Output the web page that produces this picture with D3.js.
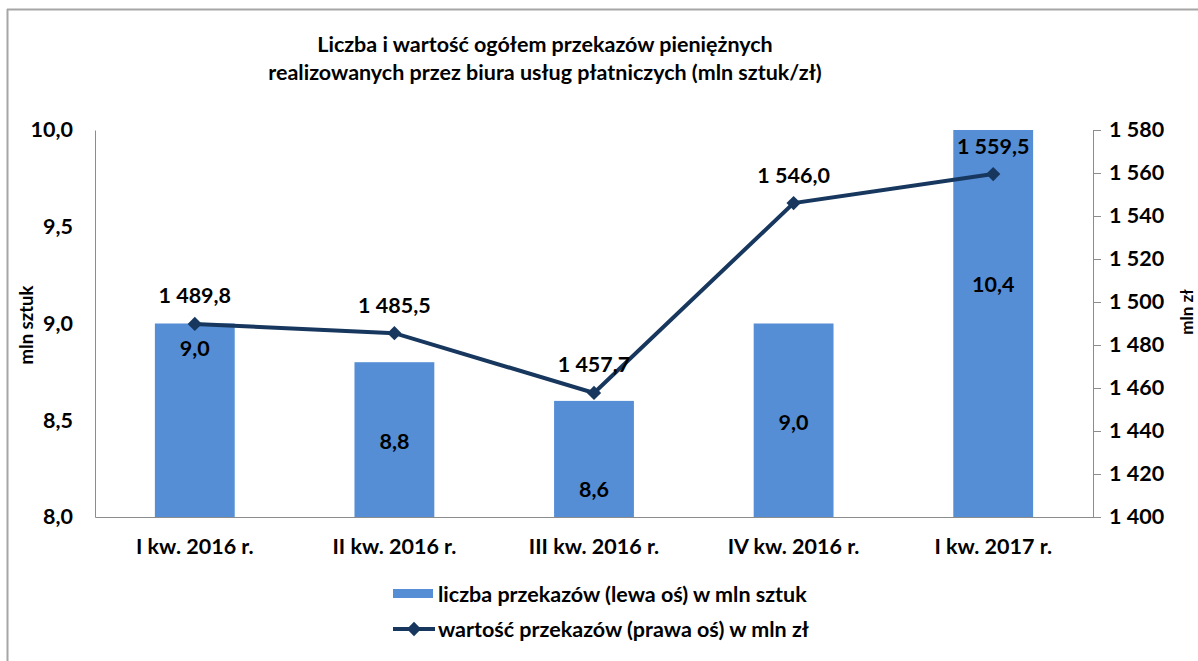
<!DOCTYPE html>
<html><head><meta charset="utf-8">
<script src="https://cdn.jsdelivr.net/npm/d3@7"></script>
<style>
body{margin:0;background:#fff;}
svg text{font-family:Lato,"Open Sans",sans-serif;font-weight:bold;fill:#000;}
</style></head><body>
<svg id="c" width="1198" height="661"></svg>
<script>
const categories = ["I kw. 2016 r.", "II kw. 2016 r.", "III kw. 2016 r.", "IV kw. 2016 r.", "I kw. 2017 r."];
const countValues = [9.0, 8.8, 8.6, 9.0, 10.4];
const valueValues = [1489.8, 1485.5, 1457.7, 1546.0, 1559.5];
const countLabelAnchor = [8.87, 8.39, 8.14, 8.49, 9.2];
const leftTicks = [8.0, 8.5, 9.0, 9.5, 10.0];
const rightTicks = [1400, 1420, 1440, 1460, 1480, 1500, 1520, 1540, 1560, 1580];
const titleLines = ["Liczba i wartość ogółem przekazów pieniężnych", "realizowanych przez biura usług płatniczych (mln sztuk/zł)"];
const legendLabels = ["liczba przekazów (lewa oś) w mln sztuk", "wartość przekazów (prawa oś) w mln zł"];

const svg = d3.select("#c");
const barColor = "#558ED5", lineColor = "#17375E", axisColor = "#8c8c8c";
const m = {l:95, r:1093, t:130, b:517};
const fs = 21.5;

// frame
svg.append("line").attr("x1",7).attr("x2",1198).attr("y1",9.5).attr("y2",9.5).attr("stroke","#a6a6a6").attr("stroke-width",2);
svg.append("line").attr("x1",7.5).attr("x2",7.5).attr("y1",9).attr("y2",661).attr("stroke","#a6a6a6").attr("stroke-width",2);

const x = d3.scaleBand().domain(categories).range([m.l, m.r]).paddingInner(0.6).paddingOuter(0.3);
const yL = d3.scaleLinear().domain([8,10]).range([m.b, m.t]);
const yR = d3.scaleLinear().domain([1400,1580]).range([m.b, m.t]);
const fmt1 = v => d3.format(",.1f")(v).replace(/,/g," ").replace(".",",");
const fmtR = v => d3.format(",")(v).replace(/,/g," ");

// title
svg.selectAll("text.title").data(titleLines).join("text").attr("class","title")
  .attr("x",545).attr("y",(d,i)=>52+i*28).attr("text-anchor","middle").attr("font-size",21.5).text(d=>d);

// bars (clipped to plot area)
svg.append("clipPath").attr("id","pc").append("rect").attr("x",m.l).attr("y",m.t).attr("width",m.r-m.l).attr("height",m.b-m.t);
svg.append("g").attr("clip-path","url(#pc)").selectAll("rect").data(countValues).join("rect")
  .attr("x",(d,i)=>x(categories[i])).attr("width",x.bandwidth())
  .attr("y",d=>yL(d)).attr("height",d=>m.b-yL(d)).attr("fill",barColor);

// axes
const gL = svg.append("g").attr("transform",`translate(${m.l},0)`)
  .call(d3.axisLeft(yL).tickValues(leftTicks).tickSize(0).tickPadding(22).tickFormat(fmt1));
gL.select(".domain").attr("stroke",axisColor);
gL.selectAll("text").attr("font-size",fs).attr("font-family","Lato").attr("font-weight","bold");

const gR = svg.append("g").attr("transform",`translate(${m.r},0)`)
  .call(d3.axisRight(yR).tickValues(rightTicks).tickSizeInner(8).tickSizeOuter(8).tickPadding(8).tickFormat(fmtR));
gR.selectAll("path,line").attr("stroke",axisColor);
gR.selectAll("text").attr("font-size",fs).attr("font-family","Lato").attr("font-weight","bold");

const gB = svg.append("g").attr("transform",`translate(0,${m.b})`)
  .call(d3.axisBottom(x).tickSize(0).tickPadding(22));
gB.select(".domain").attr("stroke",axisColor);
gB.selectAll("text").attr("font-size",fs).attr("font-family","Lato").attr("font-weight","bold");

// axis titles
svg.append("text").attr("transform","translate(33,325) rotate(-90)").attr("text-anchor","middle").attr("font-size",18.5).text("mln sztuk");
svg.append("text").attr("transform","translate(1193,312) rotate(-90)").attr("text-anchor","middle").attr("font-size",17).text("mln zł");

// line
const cx = i => x(categories[i]) + x.bandwidth()/2;
svg.append("path").datum(valueValues).attr("fill","none").attr("stroke",lineColor).attr("stroke-width",4)
  .attr("d", d3.line().x((d,i)=>cx(i)).y(d=>yR(d)));
const diamond = d3.symbol().type(d3.symbolDiamond2).size(130);
svg.selectAll("path.mk").data(valueValues).join("path").attr("class","mk")
  .attr("transform",(d,i)=>`translate(${cx(i)},${yR(d)})`).attr("d",diamond).attr("fill",lineColor);

// bar labels
svg.selectAll("text.bl").data(countValues).join("text").attr("class","bl")
  .attr("x",(d,i)=>cx(i)).attr("y",(d,i)=>yL(countLabelAnchor[i])).attr("dy","0.35em")
  .attr("text-anchor","middle").attr("font-size",fs).text(d=>fmt1(d));

// line labels
svg.selectAll("text.ll").data(valueValues).join("text").attr("class","ll")
  .attr("x",(d,i)=>cx(i)).attr("y",d=>yR(d)-28).attr("dy","0.35em")
  .attr("text-anchor","middle").attr("font-size",fs).text(d=>fmt1(d));

// legend
const lg = svg.append("g");
lg.append("rect").attr("x",393).attr("y",589).attr("width",40).attr("height",9).attr("fill",barColor);
lg.append("text").attr("x",438).attr("y",594).attr("dy","0.35em").attr("font-size",fs).text(legendLabels[0]);
lg.append("line").attr("x1",393).attr("x2",435).attr("y1",629).attr("y2",629).attr("stroke",lineColor).attr("stroke-width",4);
lg.append("path").attr("transform","translate(414,629)").attr("d",diamond).attr("fill",lineColor);
lg.append("text").attr("x",438).attr("y",629).attr("dy","0.35em").attr("font-size",fs).text(legendLabels[1]);
</script>
</body></html>
